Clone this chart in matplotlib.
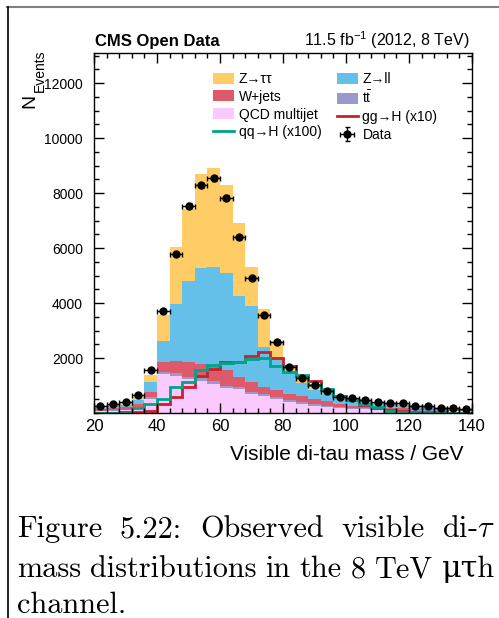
import numpy as np
import matplotlib
matplotlib.use("Agg")
import matplotlib.pyplot as plt
from matplotlib.lines import Line2D
from matplotlib.ticker import MultipleLocator

plt.rcParams['font.family'] = ['Liberation Sans', 'DejaVu Sans']

# ----------------------------
# Histogram content, 4 GeV bins from 20 to 140 GeV
# ----------------------------
edges = np.arange(20, 141, 4)

qcd = [70, 80, 100, 170, 520, 1420, 1360, 1240, 1180, 1060, 900, 870, 690, 630, 510,
       390, 330, 270, 210, 170, 150, 130, 110, 100, 90, 85, 80, 70, 60, 55]
ttbar = [15, 20, 25, 35, 50, 70, 80, 85, 90, 90, 90, 85, 80, 75, 70,
         65, 60, 55, 50, 45, 40, 38, 35, 32, 30, 27, 25, 22, 20, 18]
wjets = [75, 90, 105, 125, 180, 380, 460, 545, 530, 530, 560, 345, 345, 225, 270,
         235, 215, 185, 165, 115, 75, 62, 55, 48, 60, 48, 45, 38, 35, 27]
zll = [40, 50, 60, 155, 375, 735, 2060, 2920, 3470, 3630, 3530, 2950, 2785, 1470, 1150,
       790, 495, 340, 275, 230, 215, 200, 160, 140, 120, 100, 100, 70, 55, 50]
ztt = [30, 60, 80, 85, 242, 975, 2090, 2630, 3420, 3620, 3210, 2650, 1400, 1400, 630,
       220, 180, 150, 100, 60, 40, 40, 40, 30, 30, 20, 10, 10, 10, 10]
ggh_x10 = [10, 15, 20, 40, 90, 330, 570, 930, 1360, 1600, 1840, 1870, 2060, 2230, 2000,
           1700, 1340, 1150, 830, 630, 480, 300, 200, 120, 60, 40, 30, 20, 15, 10]
qqh_x100 = [10, 10, 15, 180, 330, 500, 930, 1140, 1570, 1760, 1830, 1870, 1960, 1990, 1700,
            1500, 1380, 1030, 880, 630, 480, 330, 205, 60, 20, 15, 10, 10, 10, 10]
data = [250, 340, 400, 640, 1550, 3700, 5800, 7550, 8290, 8545, 7840, 6410, 4900, 3560, 2600,
        1660, 1270, 1020, 810, 600, 530, 480, 390, 375, 350, 270, 270, 200, 170, 140]

W, H = 499, 618
fig = plt.figure(figsize=(W / 100, H / 100), dpi=100)
ax = fig.add_axes([94 / W, 1 - 413 / H, 378 / W, 360 / H])

# stacked backgrounds, bottom to top
stack = [
    (qcd, '#FACAFF', 'QCD multijet'),
    (ttbar, '#9B98CC', r'$\mathregular{t\bar{t}}$'),
    (wjets, '#DE5A6A', 'W+jets'),
    (zll, '#64C0E8', 'Z→ll'),
    (ztt, '#FFCC66', 'Z→ττ'),
]
handles = {}
base = np.zeros(len(data))
for vals, col, lab in stack:
    vals = np.asarray(vals, float)
    handles[lab] = ax.stairs(base + vals, edges, baseline=base, fill=True,
                             color=col, label=lab)
    base = base + vals

h_gg = ax.stairs(ggh_x10, edges, color='#C8202E', lw=2.0, label='gg→H (x10)')
h_qq = ax.stairs(qqh_x100, edges, color='#00A38A', lw=2.0, label='qq→H (x100)')

centers = 0.5 * (edges[:-1] + edges[1:])
data = np.asarray(data, float)
h_data = ax.errorbar(centers, data, xerr=2, yerr=np.sqrt(data), fmt='o', color='black',
                     ms=5, lw=1.0, capsize=1.8, label='Data', zorder=5)

ax.set_xlim(20, 140)
ax.set_ylim(0, 13100)
ax.set_xticks(np.arange(20, 141, 20))
ax.xaxis.set_minor_locator(MultipleLocator(4))
ax.set_yticks(np.arange(2000, 13000, 2000))
ax.yaxis.set_minor_locator(MultipleLocator(500))
ax.tick_params(which='both', direction='in', top=True, right=True, width=1.0)
ax.tick_params(which='major', length=7)
ax.tick_params(which='minor', length=3.5)
ax.tick_params(axis='x', labelsize=12, pad=4)
ax.tick_params(axis='y', labelsize=10, pad=8)
for sp in ax.spines.values():
    sp.set_linewidth(1.0)
    sp.set_zorder(6)

ax.set_xlabel('Visible di-tau mass / GeV', fontsize=15)
ax.xaxis.set_label_coords((463 - 94) / 378, -0.09)
ax.xaxis.label.set_horizontalalignment('right')

fig.text(30 / W, 1 - 108 / H, 'N', rotation=90, fontsize=14, ha='center', va='bottom')
fig.text(39.5 / W, 1 - 92 / H, 'Events', rotation=90, fontsize=10, ha='center', va='bottom')

fig.text(95 / W, 1 - 46 / H, 'CMS Open Data', fontsize=12, fontweight='bold')
fig.text(470 / W, 1 - 46 / H, r'11.5 fb$\mathregular{^{-1}}$ (2012, 8 TeV)',
         fontsize=11.5, ha='right')

order = ['Z→ττ', 'W+jets', 'QCD multijet']
leg_h = [handles[k] for k in order] + [h_qq, handles['Z→ll'],
                                       handles[r'$\mathregular{t\bar{t}}$'], h_gg, h_data]
leg_l = order + ['qq→H (x100)', 'Z→ll', r'$\mathregular{t\bar{t}}$', 'gg→H (x10)', 'Data']
ax.legend(leg_h, leg_l, ncol=2, frameon=False, fontsize=10, loc='upper left',
          bbox_to_anchor=(213 / W, 1 - 72 / H), bbox_transform=fig.transFigure,
          borderpad=0, borderaxespad=0, handlelength=1.5, handleheight=0.85,
          handletextpad=0.35, columnspacing=1.1, labelspacing=0.27)

# page frame
fig.add_artist(Line2D([7 / W, 1], [1 - 7 / H] * 2, color='#808080', lw=1.5))
fig.add_artist(Line2D([8 / W] * 2, [0, 1 - 7 / H], color='black', lw=1.2))

# caption, justified between the page margins
renderer = fig.canvas.get_renderer()
cap_font = dict(fontsize=21.8, family=['cmr10', 'DejaVu Serif'], math_fontfamily='cm')
lines = [
    (['Figure', '5.22:', 'Observed', 'visible', r'di-$\tau$'], 537, True),
    (['mass', 'distributions', 'in', 'the', '8', 'TeV', 'μτh'], 577, True),
    (['channel.'], 613, False),
]
x0, x1 = 17, 495
for words, yb, justify in lines:
    texts = [fig.text(0, 1 - yb / H, w, va='baseline', **cap_font) for w in words]
    widths = [t.get_window_extent(renderer).width for t in texts]
    gap = (x1 - x0 - sum(widths)) / (len(words) - 1) if justify else 8
    x = x0
    for t, w in zip(texts, widths):
        t.set_x(x / W)
        x += w + gap

fig.savefig('out.png', dpi=100)
